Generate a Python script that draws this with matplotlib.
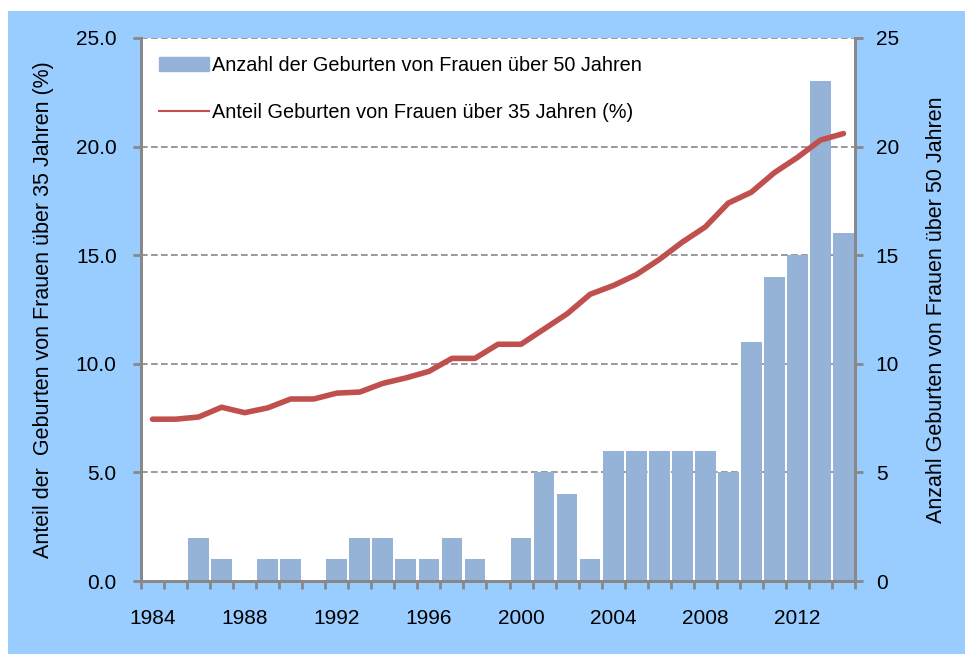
import numpy as np
import matplotlib
matplotlib.use("Agg")
import matplotlib.pyplot as plt
from matplotlib.patches import Rectangle, Patch
from matplotlib.lines import Line2D

plt.rcParams['font.family'] = ['Liberation Sans', 'DejaVu Sans']

years = list(range(1984, 2015))
births_over_50 = [0, 0, 2, 1, 0, 1, 1, 0, 1, 2, 2, 1, 1, 2, 1, 0,
                  2, 5, 4, 1, 6, 6, 6, 6, 6, 5, 11, 14, 15, 23, 16]
share_over_35 = [7.45, 7.45, 7.55, 8.0, 7.75, 7.97, 8.38, 8.38, 8.65, 8.7,
                 9.1, 9.35, 9.65, 10.25, 10.25, 10.9, 10.9, 11.6, 12.3, 13.2,
                 13.6, 14.1, 14.8, 15.6, 16.3, 17.4, 17.9, 18.8, 19.5, 20.3, 20.6]
label_years = [1984, 1988, 1992, 1996, 2000, 2004, 2008, 2012]

bar_color = '#95B3D7'
line_color = '#C0504D'
grey = '#888888'

fig = plt.figure(figsize=(9.65, 6.54), dpi=100)
fig.patch.set_facecolor('white')
fig.patches.append(Rectangle((8 / 965, 0), 1 - 8 / 965, 1 - 11 / 654,
                             transform=fig.transFigure, facecolor='#99CCFF',
                             edgecolor='none', zorder=-10))

ax = fig.add_axes([0.1461, 0.1116, 0.886 - 0.1461, 0.9419 - 0.1116])
ax2 = ax.twinx()

# bars (right axis)
ax.bar(years, births_over_50, width=0.9, color=bar_color, zorder=2)
ax.set_xlim(1983.5, 2014.5)
ax.set_ylim(0, 25)
ax.set_yticks(range(0, 26, 5))
for y in range(5, 26, 5):
    ax.axhline(y, color=grey, ls=(0, (4, 2)), lw=1.2, zorder=1)

# line (left axis)
ax2.plot(years, share_over_35, color=line_color, lw=4, solid_capstyle='round', zorder=3)
ax2.set_ylim(0, 25)
ax2.set_yticks(range(0, 26, 5))
ax2.set_yticklabels([f'{v:.1f}' for v in range(0, 26, 5)])

ax.yaxis.tick_right()
ax.yaxis.set_label_position('right')
ax2.yaxis.tick_left()
ax2.yaxis.set_label_position('left')
ax.set_ylabel('Anzahl Geburten von Frauen über 50 Jahren', fontsize=15.5, labelpad=19.5)
ax2.set_ylabel('Anteil der  Geburten von Frauen über 35 Jahren (%)', fontsize=15.5, labelpad=16)

ax.set_xticks(label_years)
ax.set_xticks([y - 0.5 for y in years] + [2014.5], minor=True)
ax.tick_params(axis='x', which='major', length=0, labelsize=15, pad=20)
ax.tick_params(axis='x', which='minor', length=6, width=2, color=grey)

ax.tick_params(axis='y', length=6, width=2, color=grey, labelsize=15, pad=9)
ax2.tick_params(axis='y', length=6, width=2, color=grey, labelsize=15, pad=11.5)
for a in (ax, ax2):
    a.spines['top'].set_visible(False)
    for s in ('left', 'right', 'bottom'):
        a.spines[s].set_color(grey)
        a.spines[s].set_linewidth(2)

handles = [Patch(color=bar_color), Line2D([0], [0], color=line_color, lw=1.5)]
labels = ['Anzahl der Geburten von Frauen über 50 Jahren',
          'Anteil Geburten von Frauen über 35 Jahren (%)']
ax2.legend(handles, labels, loc='upper left', bbox_to_anchor=(0.0, 1.0),
           frameon=False, fontsize=14.3, handlelength=2.5, handleheight=0.7,
           labelspacing=1.4, handletextpad=0.2)

fig.savefig('out.png', dpi=100)
